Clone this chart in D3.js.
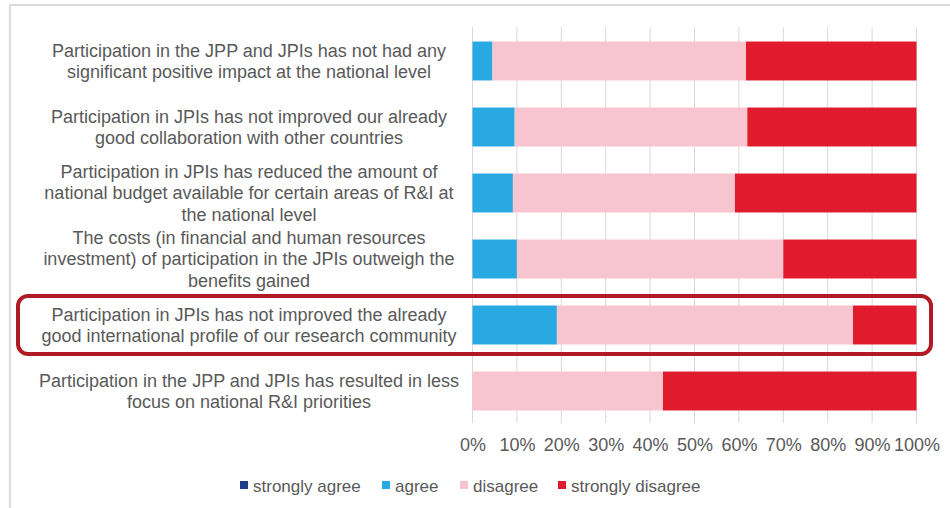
<!DOCTYPE html>
<html>
<head>
<meta charset="utf-8">
<script src="https://cdn.jsdelivr.net/npm/d3@7"></script>
<style>
  html, body { margin: 0; padding: 0; background: #fff; }
  svg { display: block; font-family: "Liberation Sans", Arial, sans-serif; }
</style>
</head>
<body>
<svg id="chart" width="950" height="508"></svg>
<script>
// Survey statements (each entry is a list of wrapped lines)
const statements = [
  ["Participation in the JPP and JPIs has not had any", "significant positive impact at the national level"],
  ["Participation in JPIs has not improved our already", "good collaboration with other countries"],
  ["Participation in JPIs has reduced the amount of", "national budget available for certain areas of R&I at", "the national level"],
  ["The costs (in financial and human resources", "investment) of participation in the JPIs outweigh the", "benefits gained"],
  ["Participation in JPIs has not improved the already", "good international profile of our research community"],
  ["Participation in the JPP and JPIs has resulted in less", "focus on national R&I priorities"]
];
const highlighted = 4;

// Response shares (%) per statement
const seriesNames = ["strongly agree", "agree", "disagree", "strongly disagree"];
const stronglyAgree    = [0,    0,    0,    0,    0,    0];
const agree            = [4.5,  9.5,  9.1,  10.0, 19.0, 0];
const disagree         = [57.1, 52.4, 50.0, 60.0, 66.7, 42.9];
const stronglyDisagree = [38.4, 38.1, 40.9, 30.0, 14.3, 57.1];
const seriesColors = ["#1f3f8f", "#29a9e1", "#f7c4cf", "#e01b2c"];
const tickValues = [0, 10, 20, 30, 40, 50, 60, 70, 80, 90, 100];

const rows = statements.map((s, i) => ({
  key: i,
  "strongly agree": stronglyAgree[i],
  "agree": agree[i],
  "disagree": disagree[i],
  "strongly disagree": stronglyDisagree[i]
}));

const svg = d3.select("#chart");
const textColor = "#595959";
const fontSize = 18;

// Outer frame
svg.append("path")
  .attr("d", "M10,508 V5 H950")
  .attr("fill", "none")
  .attr("stroke", "#dcdcdc")
  .attr("stroke-width", 2);

const x = d3.scaleLinear().domain([0, 100]).range([472.5, 916.5]);
const y = d3.scaleBand().domain(d3.range(statements.length))
  .range([28, 424]).paddingInner(0.41).paddingOuter(0.205);

// Vertical gridlines
svg.append("g")
  .selectAll("line")
  .data(tickValues)
  .join("line")
  .attr("x1", d => x(d)).attr("x2", d => x(d))
  .attr("y1", 27).attr("y2", 423)
  .attr("stroke", "#d9d9d9")
  .attr("stroke-width", 1);

// Stacked bars
const stack = d3.stack().keys(seriesNames)(rows);
svg.append("g")
  .selectAll("g")
  .data(stack)
  .join("g")
  .attr("fill", (d, i) => seriesColors[i])
  .selectAll("rect")
  .data(d => d)
  .join("rect")
  .attr("x", d => x(d[0]))
  .attr("width", d => x(d[1]) - x(d[0]))
  .attr("y", d => y(d.data.key))
  .attr("height", y.bandwidth());

// X axis labels
const xAxis = d3.axisBottom(x).tickValues(tickValues).tickFormat(d => d + "%").tickSize(0).tickPadding(0);
const gx = svg.append("g").attr("transform", "translate(0,438)").call(xAxis);
gx.select(".domain").remove();
gx.selectAll("text")
  .attr("font-size", fontSize)
  .attr("font-family", "Liberation Sans, Arial, sans-serif")
  .attr("fill", textColor);

// Statement labels
const lineH = 21.5;
const labels = svg.append("g")
  .selectAll("text")
  .data(statements)
  .join("text")
  .attr("text-anchor", "middle")
  .attr("font-size", fontSize)
  .attr("fill", textColor);
labels.each(function (lines, i) {
  const cy = y(i) + y.bandwidth() / 2;
  const y0 = cy - (lines.length - 1) * lineH / 2;
  d3.select(this).selectAll("tspan")
    .data(lines)
    .join("tspan")
    .attr("x", 249)
    .attr("y", (d, j) => y0 + j * lineH)
    .attr("dy", "0.35em")
    .text(d => d);
});

// Highlight around one statement
svg.append("rect")
  .attr("x", 18)
  .attr("y", y(highlighted) + y.bandwidth() / 2 - 29)
  .attr("width", 913)
  .attr("height", 58)
  .attr("rx", 10)
  .attr("fill", "none")
  .attr("stroke", "#b01a24")
  .attr("stroke-width", 4);

// Legend
const legendX = [240, 382, 460, 558];
const legend = svg.append("g")
  .selectAll("g")
  .data(seriesNames)
  .join("g")
  .attr("transform", (d, i) => `translate(${legendX[i]},486)`);
legend.append("rect")
  .attr("x", 0).attr("y", -5)
  .attr("width", 8).attr("height", 8)
  .attr("fill", (d, i) => seriesColors[i]);
legend.append("text")
  .attr("x", 13)
  .attr("dy", "0.35em")
  .attr("font-size", 17)
  .attr("fill", textColor)
  .text(d => d);
</script>
</body>
</html>
